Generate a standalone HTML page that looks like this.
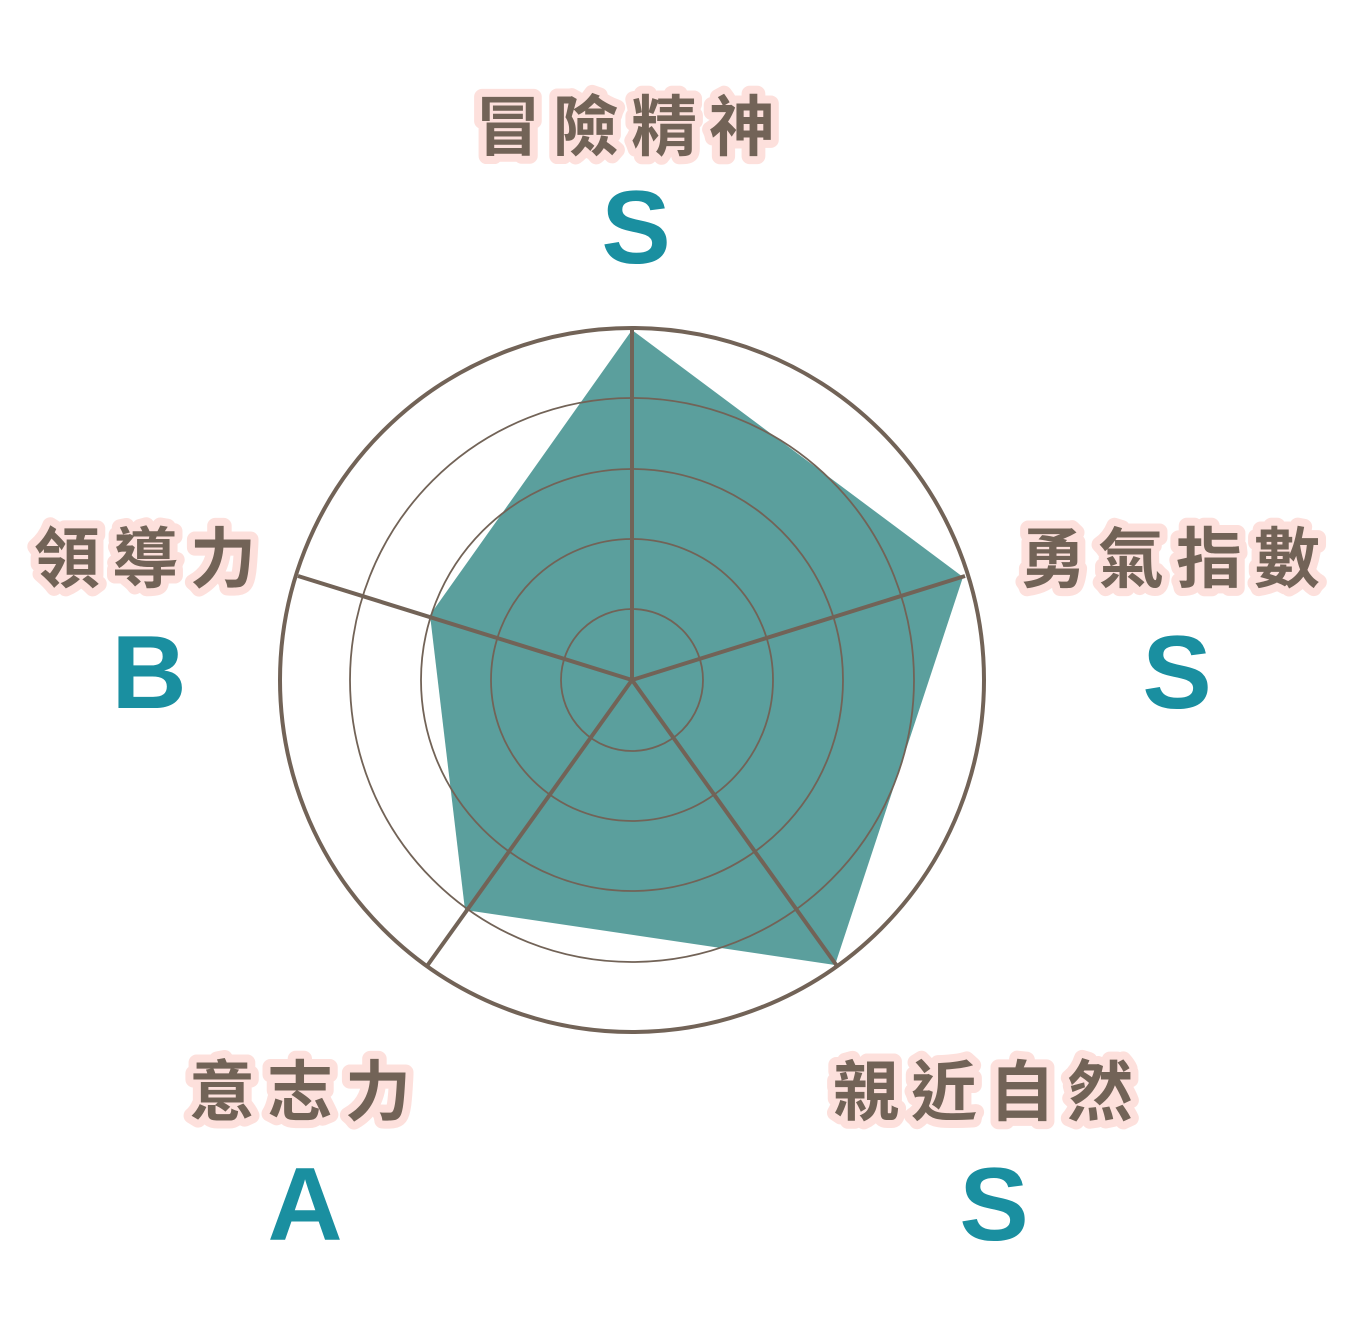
<!DOCTYPE html>
<html><head><meta charset="utf-8"><style>
html,body{margin:0;padding:0;background:#fff;}
svg{display:block;}
.lb{font-family:"Liberation Sans","Noto Sans CJK TC","Noto Sans CJK JP",sans-serif;font-weight:bold;font-size:66px;fill:#726357;stroke:#fde0dc;stroke-width:16px;stroke-linejoin:round;paint-order:stroke;letter-spacing:12px;text-anchor:middle;}
.gr{font-family:"Liberation Sans","DejaVu Sans",sans-serif;font-weight:bold;font-size:104px;fill:#1a8fa0;text-anchor:middle;}
</style></head><body>
<svg width="1361" height="1330" viewBox="0 0 1361 1330" xmlns="http://www.w3.org/2000/svg">
<polygon points="632,330 963,577 835,965 465,910 430,615" fill="#5b9f9d"/>
<g fill="none" stroke="#726357">
<circle cx="632" cy="680" r="282" stroke-width="1.8"/>
<circle cx="632" cy="680" r="211" stroke-width="1.8"/>
<circle cx="632" cy="680" r="141" stroke-width="1.8"/>
<circle cx="632" cy="680" r="71" stroke-width="1.8"/>
<circle cx="632" cy="680" r="352" stroke-width="4"/>
<g stroke-width="4">
<line x1="632" y1="680" x2="632" y2="328"/>
<line x1="632" y1="680" x2="965" y2="576"/>
<line x1="632" y1="680" x2="837" y2="966"/>
<line x1="632" y1="680" x2="427" y2="966"/>
<line x1="632" y1="680" x2="298" y2="576"/>
</g>
</g>
<text class="lb" x="631" y="150">冒險精神</text>
<text class="gr" x="636" y="263">S</text>
<text class="lb" x="1176" y="582">勇氣指數</text>
<text class="gr" x="1177" y="708">S</text>
<text class="lb" x="151" y="582">領導力</text>
<text class="gr" x="149" y="708">B</text>
<text class="lb" x="306" y="1115">意志力</text>
<text class="gr" x="305" y="1240">A</text>
<text class="lb" x="989" y="1115">親近自然</text>
<text class="gr" x="994" y="1240">S</text>
</svg>
</body></html>
